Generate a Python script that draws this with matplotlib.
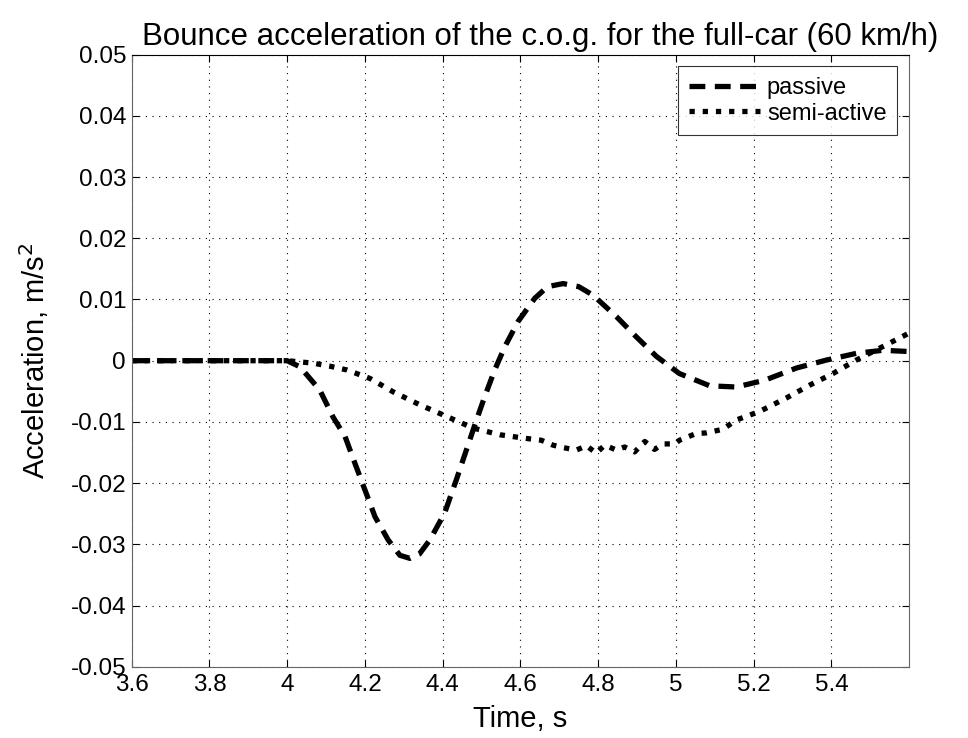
import matplotlib
matplotlib.use("Agg")
from matplotlib import pyplot as plt

plt.rcParams['font.family'] = ['Liberation Sans', 'DejaVu Sans']

# passive suspension
t_passive = [3.6, 3.8, 4.0, 4.033, 4.084, 4.118, 4.149, 4.174, 4.2, 4.226, 4.26,
             4.29, 4.316, 4.34, 4.367, 4.405, 4.435, 4.461, 4.487, 4.508, 4.534,
             4.56, 4.594, 4.637, 4.67, 4.71, 4.75, 4.787, 4.847, 4.898, 4.95,
             5.009, 5.087, 5.155, 5.228, 5.31, 5.387, 5.464, 5.532, 5.5995]
a_passive = [0, 0, 0, -0.001, -0.0048, -0.0092, -0.0124, -0.0167, -0.0211, -0.0255,
             -0.0293, -0.0318, -0.0323, -0.0316, -0.0293, -0.0249, -0.0195, -0.0146,
             -0.0097, -0.0059, -0.0015, 0.0023, 0.0064, 0.0102, 0.0121, 0.0126,
             0.0121, 0.0107, 0.0072, 0.0039, 0.0007, -0.0021, -0.0041, -0.0043,
             -0.0032, -0.0012, 0.0001, 0.0012, 0.0017, 0.0015]

# semi-active suspension
t_semi = [3.6, 3.8, 4.0, 4.067, 4.11, 4.153, 4.213, 4.273, 4.341, 4.41, 4.478,
          4.547, 4.615, 4.654, 4.684, 4.71, 4.744, 4.77, 4.795, 4.817, 4.847,
          4.868, 4.894, 4.92, 4.945, 4.967, 4.997, 5.009, 5.052, 5.078, 5.121,
          5.155, 5.215, 5.284, 5.344, 5.404, 5.464, 5.532, 5.5995]
a_semi = [0, 0, 0, -0.0004, -0.0009, -0.0015, -0.0029, -0.0051, -0.0072, -0.0091,
          -0.011, -0.0121, -0.0127, -0.013, -0.0138, -0.0142, -0.0146, -0.0139,
          -0.0151, -0.0138, -0.0146, -0.0141, -0.0149, -0.0132, -0.0145, -0.0136,
          -0.0136, -0.013, -0.0119, -0.0118, -0.0112, -0.0097, -0.0083, -0.0061,
          -0.004, -0.0021, 0.0001, 0.0023, 0.0045]

x_ticks = [3.6, 3.8, 4.0, 4.2, 4.4, 4.6, 4.8, 5.0, 5.2, 5.4]
x_labels = ['3.6', '3.8', '4', '4.2', '4.4', '4.6', '4.8', '5', '5.2', '5.4']
y_ticks = [-0.05, -0.04, -0.03, -0.02, -0.01, 0, 0.01, 0.02, 0.03, 0.04, 0.05]
y_labels = ['-0.05', '-0.04', '-0.03', '-0.02', '-0.01', '0',
            '0.01', '0.02', '0.03', '0.04', '0.05']

fig = plt.figure(figsize=(9.68, 7.38), dpi=100)
ax = fig.add_axes([0.136, 0.0966, 0.803, 0.8293])

ax.plot(t_passive, a_passive, color='black', lw=3.8,
        linestyle=(0, (3, 1.8)), label='passive')
ax.plot(t_semi, a_semi, color='black', lw=3.8,
        linestyle=(0, (1, 1.5)), label='semi-active')

ax.set_xlim(3.6, 5.5995)
ax.set_ylim(-0.05, 0.05)
ax.set_xticks(x_ticks)
ax.set_xticklabels(x_labels)
ax.set_yticks(y_ticks)
ax.set_yticklabels(y_labels)
ax.tick_params(direction='in', top=True, right=True, length=5, width=0.8,
               labelsize=17.5)
ax.tick_params(axis='x', pad=5)
ax.tick_params(axis='y', pad=4)
ax.grid(True, linestyle=(0, (1, 5)), color='black', lw=0.8)

for side in ['left', 'right', 'bottom']:
    ax.spines[side].set_color('#666666')
ax.spines['top'].set_color('black')

ax.set_xlabel('Time, s', fontsize=21, labelpad=7)
ax.set_ylabel('Acceleration, m/s$^2$', fontsize=21, labelpad=14)
ax.set_title('Bounce acceleration of the c.o.g. for the full-car (60 km/h)',
             fontsize=22.5, pad=7, x=0.526)

leg = ax.legend(loc='upper right', fontsize=17, frameon=True, fancybox=False,
                handlelength=3.0, handletextpad=0.3, borderpad=0.45,
                labelspacing=0.15, borderaxespad=0.5)
leg.get_frame().set_edgecolor('black')
leg.get_frame().set_linewidth(0.8)

fig.savefig('out.png', dpi=100)
